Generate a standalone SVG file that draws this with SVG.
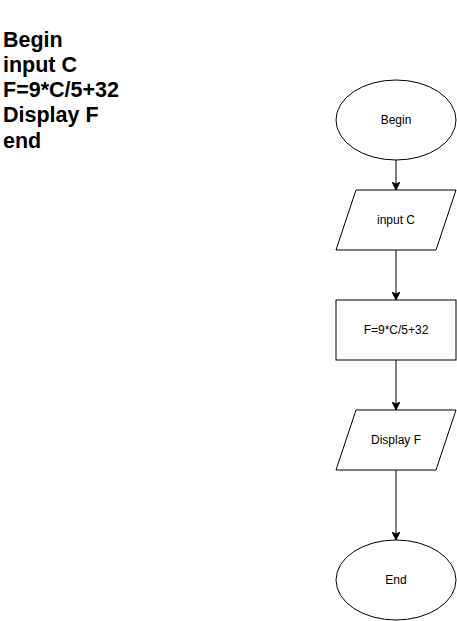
<svg xmlns="http://www.w3.org/2000/svg" width="457" height="621" viewBox="0 0 457 621">
  <style>
    .shape { fill: #ffffff; stroke: #000000; stroke-width: 1; }
    .label { font-family: "Liberation Sans", Arial, Helvetica, sans-serif; font-size: 12px; fill: #000000; text-anchor: middle; dominant-baseline: central; }
    .notes { font-family: "Liberation Sans", Arial, Helvetica, sans-serif; font-size: 21.5px; font-weight: bold; fill: #000000; }
    .edge { fill: none; stroke: #000000; stroke-width: 1; }
  </style>
  <defs>
    <marker id="arrow" viewBox="0 0 10 10" refX="10" refY="5" markerWidth="8" markerHeight="8" markerUnits="userSpaceOnUse" orient="auto">
      <path d="M0,0 L10,5 L0,10 L2.5,5 Z" fill="#000000" stroke="#000000" stroke-width="1"/>
    </marker>
  </defs>
  <rect width="457" height="621" fill="#ffffff"/>

  <!-- pseudocode -->
  <g id="pseudocode">
    <text class="notes" x="3" y="47">Begin</text>
    <text class="notes" x="3" y="72">input C</text>
    <text class="notes" x="3" y="97">F=9*C/5+32</text>
    <text class="notes" x="3" y="122">Display F</text>
    <text class="notes" x="3" y="148">end</text>
  </g>

  <!-- connectors -->
  <g id="connectors">
    <path class="edge" d="M396,160 L396,190" marker-end="url(#arrow)"/>
    <path class="edge" d="M396,250 L396,300" marker-end="url(#arrow)"/>
    <path class="edge" d="M396,360 L396,410" marker-end="url(#arrow)"/>
    <path class="edge" d="M396,470 L396,540" marker-end="url(#arrow)"/>
  </g>

  <g id="begin">
    <ellipse class="shape" cx="396" cy="120" rx="60" ry="40"/>
    <text class="label" x="396" y="120">Begin</text>
  </g>

  <g id="input-c">
    <polygon class="shape" points="356,190 456,190 436,250 336,250"/>
    <text class="label" x="396" y="220">input C</text>
  </g>

  <g id="compute-f">
    <rect class="shape" x="336" y="300" width="120" height="60"/>
    <text class="label" x="396" y="330">F=9*C/5+32</text>
  </g>

  <g id="display-f">
    <polygon class="shape" points="356,410 456,410 436,470 336,470"/>
    <text class="label" x="396" y="440">Display F</text>
  </g>

  <g id="end">
    <ellipse class="shape" cx="396" cy="580" rx="60" ry="40"/>
    <text class="label" x="396" y="580">End</text>
  </g>
</svg>
